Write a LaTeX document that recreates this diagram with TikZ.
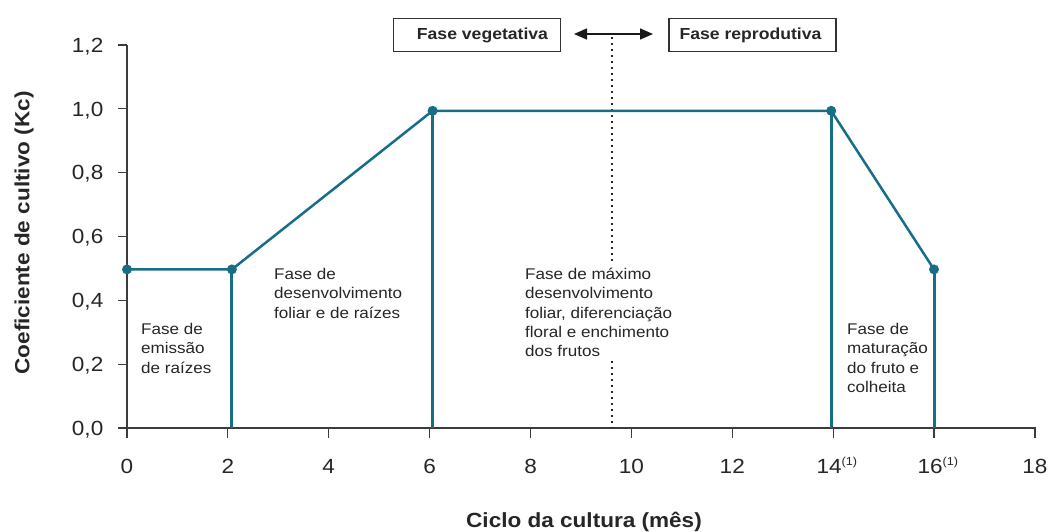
\documentclass[tikz,border=0pt]{standalone}
\usepackage{fontspec}
\setmainfont[FakeStretch=1.1]{Liberation Sans}
\usetikzlibrary{arrows.meta}
\definecolor{teal1}{RGB}{24,110,134}
\definecolor{axisgray}{RGB}{60,60,60}
\begin{document}
\begin{tikzpicture}[x=1pt,y=-1pt,
  axisline/.style={draw=axisgray,line width=1.2pt},
  curve/.style={draw=teal1,line width=2.5pt,line join=round},
  drop/.style={draw=teal1,line width=3pt},
  dot/.style={circle,fill=teal1,inner sep=0pt,minimum size=10pt},
  ticklab/.style={font=\fontsize{20.5}{22}\selectfont,inner sep=0pt,text=black!85},
  phase/.style={font=\fontsize{15.5}{19.3}\selectfont,align=left,anchor=north west,inner sep=0pt,text=black!85},
  phasebox/.style={draw=black!80,line width=1.2pt,minimum width=167pt,minimum height=33pt,inner sep=0pt},
  boxlab/.style={font=\bfseries\fontsize{16}{18}\selectfont,inner sep=0pt,text=black!85},
  title/.style={font=\bfseries\fontsize{20.5}{22}\selectfont,inner sep=0pt,text=black!85}
]
\useasboundingbox (0,0) rectangle (1050,531);
% axes
\coordinate (yaxtop) at (127,45);
\coordinate (origin) at (127,428);
\coordinate (xaxleft) at (118,428);
\coordinate (xaxright) at (1036,428);
\draw[axisline] (yaxtop) -- (origin);
\draw[axisline] (xaxleft) -- (xaxright);
% y ticks
\foreach \v/\lab in {0/{0,0},1/{0,2},2/{0,4},3/{0,6},4/{0,8},5/{1,0},6/{1,2}}{
  \pgfmathsetmacro{\yy}{428-63.83*\v}
  \coordinate (yt\v) at (127,\yy);
  \draw[axisline] (yt\v) -- ++(-9,0);
  \node[ticklab,anchor=base east] (yl\v) at (103.5,\yy+7.3) {\lab};
}
% x ticks
\foreach \v in {0,2,4,6,8,10,12,14,16,18}{
  \pgfmathsetmacro{\xx}{127+50.44*\v}
  \coordinate (xt\v) at (\xx,428);
  \draw[axisline] (xt\v) -- ++(0,10);
}
\foreach \v in {0,2,4,6,8,10,12,18}{
  \pgfmathsetmacro{\xx}{127+50.44*\v}
  \node[ticklab,anchor=base] (xl\v) at (\xx,473) {\v};
}
\pgfmathsetmacro{\xa}{127+50.44*14+4}
\node[ticklab,anchor=base] (xl14) at (\xa,473) {14\textsuperscript{\fontsize{11.5}{12}\selectfont(1)}};
\pgfmathsetmacro{\xb}{127+50.44*16+4}
\node[ticklab,anchor=base] (xl16) at (\xb,473) {16\textsuperscript{\fontsize{11.5}{12}\selectfont(1)}};
% titles
\node[title,rotate=90] (ytitle) at (24,233) {Coeficiente de cultivo (Kc)};
\node[title,anchor=base] (xtitle) at (584,527) {Ciclo da cultura (mês)};
% dotted divider
\coordinate (divtop) at (612,37);
\coordinate (divbot) at (612,428);
\draw[black!85,line width=1.6pt,dash pattern=on 2pt off 4pt] (divtop) -- (divbot);
% phase boxes
\node[phasebox] (veg) at (477,35) {};
\node[boxlab] (vegl) at (482.5,35.5) {Fase vegetativa};
\node[phasebox] (rep) at (752.5,35) {};
\node[boxlab] (repl) at (750.5,35.5) {Fase reprodutiva};
\coordinate (arl) at (574,34);
\coordinate (arr) at (653,34);
\draw[black!90,line width=1.4pt,{Triangle[length=13pt,width=11pt]}-{Triangle[length=13pt,width=11pt]}] (arl) -- (arr);
% curve points
\coordinate (p0) at (127,269.4);
\coordinate (p2) at (231.9,269.4);
\coordinate (p6) at (432.6,110.8);
\coordinate (p14) at (831.2,110.8);
\coordinate (p16) at (934.0,269.4);
\coordinate (b2) at (231.9,428);
\coordinate (b6) at (432.6,428);
\coordinate (b14) at (831.2,428);
\coordinate (b16) at (934.0,428);
\draw[drop] (p2) -- (b2);
\draw[drop] (p6) -- (b6);
\draw[drop] (p14) -- (b14);
\draw[drop] (p16) -- (b16);
\draw[curve] (p0) -- (p2) -- (p6) -- (p14) -- (p16);
\foreach \p in {p0,p2,p6,p14,p16}{\node[dot] (d\p) at (\p) {};}
% phase labels
\node[phase] (ph1) at (141,323) {Fase de\\emissão\\de raízes};
\node[phase] (ph2) at (274,268) {Fase de\\desenvolvimento\\foliar e de raízes};
\node[phase,fill=white,inner ysep=3pt] (ph3) at (525,265) {Fase de máximo\\desenvolvimento\\foliar, diferenciação\\floral e enchimento\\dos frutos};
\node[phase] (ph4) at (847,323) {Fase de\\maturação\\do fruto e\\colheita};
\end{tikzpicture}
\end{document}
